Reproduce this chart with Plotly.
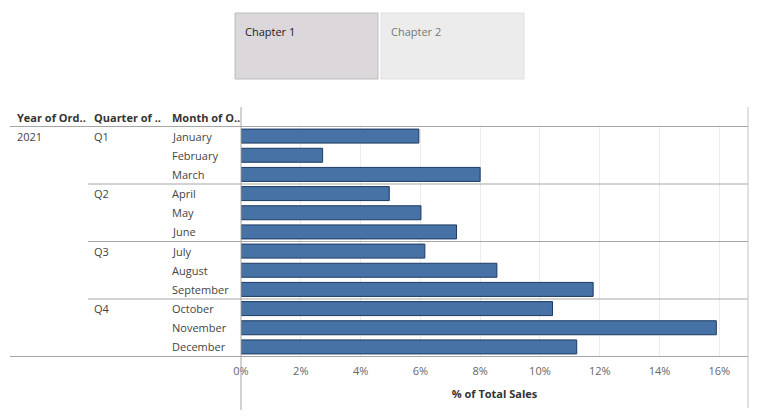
import plotly.graph_objects as go

# data
months = ["January", "February", "March", "April", "May", "June",
          "July", "August", "September", "October", "November", "December"]
quarters = ["Q1", "Q2", "Q3", "Q4"]
year = "2021"
pct_sales = [5.95, 2.73, 8.0, 4.96, 6.02, 7.21, 6.15, 8.56, 11.78, 10.42, 15.9, 11.23]
tick_vals = [0, 2, 4, 6, 8, 10, 12, 14, 16]
tick_text = ["0%", "2%", "4%", "6%", "8%", "10%", "12%", "14%", "16%"]
headers = ["Year of Ord..", "Quarter of ..", "Month of O.."]

# page has an 8px body margin, so the figure is drawn a little smaller
OFF = 8
W, H = 761 - 2 * OFF, 418 - 2 * OFF
L, R, T, B = 241 - OFF, 13 - OFF, 126 - OFF, 61 - OFF
PW, PH = W - L - R, H - T - B


def px_x(p):
    # screen pixel -> paper x
    return (p - 241) / PW


def px_y(p):
    # screen pixel -> paper y
    return 1 - (p - 126) / PH


FONT = "Open Sans"
LINE = "#a6a6a6"

fig = go.Figure()
fig.add_trace(go.Bar(
    x=pct_sales, y=months, orientation="h",
    marker=dict(color="#4672a6", line=dict(color="#1d3a62", width=1)),
    hoverinfo="x+y",
))

shapes = []
# header and bottom rule
for yy in (-0.5, len(months) - 0.5):
    shapes.append(dict(type="line", xref="paper", yref="y",
                       x0=px_x(10), x1=px_x(748), y0=yy, y1=yy,
                       line=dict(color=LINE, width=1)))
# quarter separators
for q in range(1, len(quarters)):
    yy = q * 3 - 0.5
    shapes.append(dict(type="line", xref="paper", yref="y",
                       x0=px_x(88), x1=px_x(748), y0=yy, y1=yy,
                       line=dict(color=LINE, width=1)))
# axis line and right border
shapes.append(dict(type="line", xref="paper", yref="paper",
                   x0=0, x1=0, y0=px_y(418), y1=px_y(107),
                   line=dict(color=LINE, width=1)))
shapes.append(dict(type="line", xref="paper", yref="paper",
                   x0=px_x(748), x1=px_x(748), y0=px_y(408), y1=px_y(107),
                   line=dict(color="#c4c4c4", width=1)))
# chapter tabs
shapes.append(dict(type="rect", xref="paper", yref="paper",
                   x0=px_x(235), x1=px_x(378), y0=px_y(79), y1=px_y(13),
                   fillcolor="#dbd7db", line=dict(color="#bcbcbc", width=1)))
shapes.append(dict(type="rect", xref="paper", yref="paper",
                   x0=px_x(381), x1=px_x(524), y0=px_y(79), y1=px_y(13),
                   fillcolor="#ececec", line=dict(color="#e0e0e0", width=1)))

annotations = []
for txt, xp in zip(headers, (15, 92, 170)):
    annotations.append(dict(text="<b>" + txt + "</b>", xref="paper", yref="paper",
                            x=px_x(xp), y=px_y(117), xanchor="left", yanchor="middle",
                            showarrow=False, font=dict(size=11, color="#333", family=FONT)))
annotations.append(dict(text=year, xref="paper", yref="y", x=px_x(15), y=months[0],
                        xanchor="left", yanchor="middle", showarrow=False,
                        font=dict(size=11, color="#444", family=FONT)))
for i, q in enumerate(quarters):
    annotations.append(dict(text=q, xref="paper", yref="y", x=px_x(92), y=months[i * 3],
                            xanchor="left", yanchor="middle", showarrow=False,
                            font=dict(size=11, color="#444", family=FONT)))
for m in months:
    annotations.append(dict(text=m, xref="paper", yref="y", x=px_x(170), y=m,
                            xanchor="left", yanchor="middle", showarrow=False,
                            font=dict(size=11, color="#444", family=FONT)))
annotations.append(dict(text="Chapter 1", xref="paper", yref="paper",
                        x=px_x(243), y=px_y(31), xanchor="left", yanchor="middle",
                        showarrow=False, font=dict(size=11, color="#222", family=FONT)))
annotations.append(dict(text="Chapter 2", xref="paper", yref="paper",
                        x=px_x(389), y=px_y(31), xanchor="left", yanchor="middle",
                        showarrow=False, font=dict(size=11, color="#777", family=FONT)))

fig.update_layout(
    width=W, height=H,
    margin=dict(l=L, r=R, t=T, b=B),
    plot_bgcolor="white", paper_bgcolor="white",
    showlegend=False, bargap=0.27,
    shapes=shapes, annotations=annotations,
    font=dict(family=FONT),
)
fig.update_xaxes(
    range=[0, 16.96], tickvals=tick_vals, ticktext=tick_text,
    showgrid=True, gridcolor="#ececec", gridwidth=1, zeroline=False,
    ticks="outside", ticklen=4, tickcolor="white",
    tickfont=dict(size=11, color="#666"),
    title=dict(text="<b>% of Total Sales</b>", font=dict(size=11, color="#333"), standoff=13),
    fixedrange=True,
)
fig.update_yaxes(
    categoryorder="array", categoryarray=months, autorange="reversed",
    range=[len(months) - 0.5, -0.5], showticklabels=False, showgrid=False,
    zeroline=False, fixedrange=True,
)

fig.write_html("out.html")
